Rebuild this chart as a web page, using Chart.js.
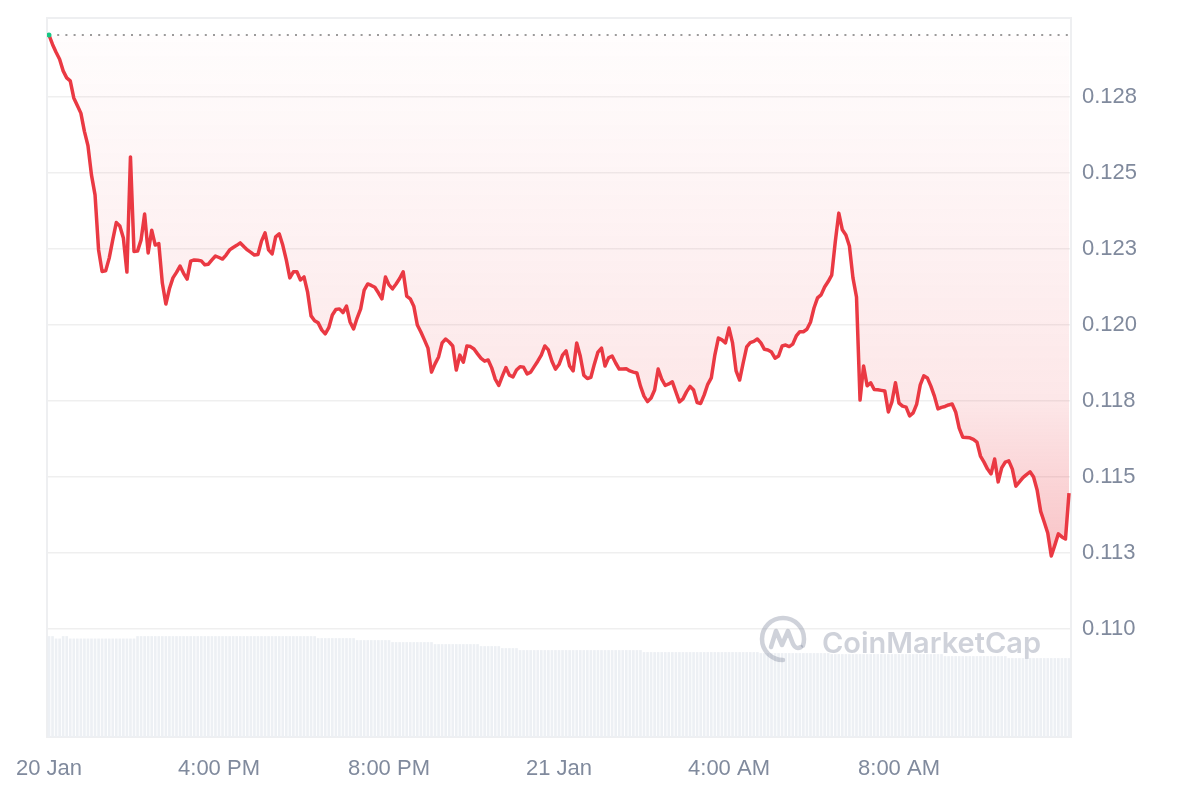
<!DOCTYPE html>
<html>
<head>
<meta charset="utf-8">
<script src="https://cdn.jsdelivr.net/npm/chart.js@4.4.1/dist/chart.umd.min.js"></script>
<style>
  html, body { margin: 0; padding: 0; background: #fff; }
  #wrap { width: 1200px; height: 800px; }
</style>
</head>
<body>
<div id="wrap"><canvas id="priceChart" width="1200" height="800"></canvas></div>
<script>
// time axis: hours relative to 21 Jan 00:00, one point every 5 minutes
const startHour = -12;
const stepMinutes = 5;

// price, one row per hour
const prices = [
  0.12954, 0.12923, 0.12897, 0.12874, 0.12836, 0.12813, 0.12803, 0.12747, 0.12722, 0.12697, 0.12637, 0.12590,
  0.12493, 0.12428, 0.12247, 0.12176, 0.12178, 0.12220, 0.12280, 0.12337, 0.12326, 0.12286, 0.12174, 0.12553,
  0.12242, 0.12243, 0.12280, 0.12365, 0.12237, 0.12312, 0.12263, 0.12268, 0.12138, 0.12069, 0.12119, 0.12155,
  0.12173, 0.12194, 0.12170, 0.12151, 0.12210, 0.12214, 0.12213, 0.12211, 0.12198, 0.12200, 0.12214, 0.12227,
  0.12222, 0.12217, 0.12230, 0.12247, 0.12255, 0.12262, 0.12270, 0.12258, 0.12247, 0.12239, 0.12230, 0.12232,
  0.12276, 0.12303, 0.12247, 0.12234, 0.12290, 0.12300, 0.12263, 0.12214, 0.12155, 0.12175, 0.12175, 0.12148,
  0.12158, 0.12109, 0.12030, 0.12014, 0.12007, 0.11984, 0.11971, 0.11991, 0.12033, 0.12051, 0.12053, 0.12041,
  0.12062, 0.12010, 0.11987, 0.12023, 0.12053, 0.12115, 0.12135, 0.12130, 0.12124, 0.12106, 0.12086, 0.12158,
  0.12132, 0.12119, 0.12135, 0.12153, 0.12175, 0.12095, 0.12086, 0.12062, 0.12000, 0.11977, 0.11951, 0.11924,
  0.11845, 0.11872, 0.11895, 0.11941, 0.11954, 0.11944, 0.11931, 0.11852, 0.11901, 0.11878, 0.11931, 0.11929,
  0.11921, 0.11905, 0.11890, 0.11881, 0.11885, 0.11859, 0.11822, 0.11801, 0.11832, 0.11860, 0.11835, 0.11829,
  0.11852, 0.11863, 0.11861, 0.11839, 0.11845, 0.11863, 0.11881, 0.11901, 0.11931, 0.11918, 0.11881, 0.11855,
  0.11870, 0.11901, 0.11915, 0.11865, 0.11849, 0.11941, 0.11898, 0.11835, 0.11824, 0.11828, 0.11872, 0.11911,
  0.11924, 0.11865, 0.11892, 0.11898, 0.11875, 0.11855, 0.11855, 0.11856, 0.11849, 0.11845, 0.11842, 0.11799,
  0.11766, 0.11748, 0.11760, 0.11786, 0.11855, 0.11822, 0.11801, 0.11806, 0.11813, 0.11780, 0.11747, 0.11757,
  0.11780, 0.11798, 0.11786, 0.11745, 0.11742, 0.11770, 0.11805, 0.11826, 0.11901, 0.11957, 0.11951, 0.11941,
  0.11990, 0.11941, 0.11849, 0.11819, 0.11875, 0.11928, 0.11942, 0.11946, 0.11954, 0.11941, 0.11920, 0.11918,
  0.11911, 0.11891, 0.11898, 0.11931, 0.11934, 0.11929, 0.11937, 0.11964, 0.11978, 0.11978, 0.11986, 0.12009,
  0.12056, 0.12089, 0.12099, 0.12125, 0.12143, 0.12164, 0.12273, 0.12368, 0.12313, 0.12296, 0.12260, 0.12155,
  0.12092, 0.11753, 0.11865, 0.11800, 0.11810, 0.11788, 0.11787, 0.11785, 0.11783, 0.11714, 0.11747, 0.11810,
  0.11743, 0.11733, 0.11730, 0.11701, 0.11711, 0.11740, 0.11803, 0.11833, 0.11826, 0.11799, 0.11766, 0.11724,
  0.11729, 0.11732, 0.11737, 0.11740, 0.11714, 0.11661, 0.11631, 0.11630, 0.11629, 0.11624, 0.11615, 0.11569,
  0.11549, 0.11526, 0.11510, 0.11559, 0.11484, 0.11530, 0.11549, 0.11553, 0.11526, 0.11470, 0.11484, 0.11498,
  0.11508, 0.11517, 0.11500, 0.11457, 0.11387, 0.11352, 0.11316, 0.11240, 0.11276, 0.11313, 0.11303, 0.11296,
  0.11447
];

// volume (M), same 5 minute buckets
const volumes = [
  50.5, 50.5, 49.3, 49.3, 50.5, 50.5, 49.3, 49.3, 49.3, 49.3, 49.3, 49.3,
  49.3, 49.3, 49.3, 49.3, 49.3, 49.3, 49.3, 49.3, 49.3, 49.3, 49.3, 49.3,
  49.3, 50.5, 50.5, 50.5, 50.5, 50.5, 50.5, 50.5, 50.5, 50.5, 50.5, 50.5,
  50.5, 50.5, 50.5, 50.5, 50.5, 50.5, 50.5, 50.5, 50.5, 50.5, 50.5, 50.5,
  50.5, 50.5, 50.5, 50.5, 50.5, 50.5, 50.5, 50.5, 50.5, 50.5, 50.5, 50.5,
  50.5, 50.5, 50.5, 50.5, 50.5, 50.5, 50.5, 50.5, 50.5, 50.5, 50.5, 50.5,
  50.5, 50.5, 50.5, 50.5, 49.5, 49.5, 49.5, 49.5, 49.5, 49.5, 49.5, 49.5,
  49.5, 49.5, 49.5, 48.5, 48.5, 48.5, 48.5, 48.5, 48.5, 48.5, 48.5, 48.5,
  48.5, 47.5, 47.5, 47.5, 47.5, 47.5, 47.5, 47.5, 47.5, 47.5, 47.5, 47.5,
  47.5, 46.5, 46.5, 46.5, 46.5, 46.5, 46.5, 46.5, 46.5, 46.5, 46.5, 46.5,
  46.5, 46.5, 45.5, 45.5, 45.5, 45.5, 45.5, 45.5, 44.5, 44.5, 44.5, 44.5,
  44.5, 43.5, 43.5, 43.5, 43.5, 43.5, 43.5, 43.5, 43.5, 43.5, 43.5, 43.5,
  43.5, 43.5, 43.5, 43.5, 43.5, 43.5, 43.5, 43.5, 43.5, 43.5, 43.5, 43.5,
  43.5, 43.5, 43.5, 43.5, 43.5, 43.5, 43.5, 43.5, 43.5, 43.5, 43.5, 43.5,
  42.5, 42.5, 42.5, 42.5, 42.5, 42.5, 42.5, 42.5, 42.5, 42.5, 42.5, 42.5,
  42.5, 42.5, 42.5, 42.5, 42.5, 42.5, 42.5, 42.5, 42.5, 42.5, 42.5, 42.5,
  42.5, 42.5, 42.5, 42.5, 42.5, 42.5, 42.5, 42.5, 42.5, 42.0, 42.0, 42.0,
  42.0, 42.0, 42.0, 42.0, 42.0, 42.0, 42.0, 42.0, 42.0, 42.0, 42.0, 42.0,
  42.0, 42.0, 42.0, 42.0, 42.0, 41.5, 41.5, 41.5, 41.5, 41.5, 41.5, 41.5,
  41.5, 41.5, 41.5, 41.5, 41.5, 41.5, 41.5, 41.5, 41.5, 41.5, 41.5, 41.5,
  41.5, 41.5, 41.5, 41.5, 41.5, 41.5, 41.5, 41.5, 41.5, 41.5, 41.5, 41.5,
  41.5, 40.5, 40.5, 40.5, 40.5, 40.5, 40.5, 40.5, 40.5, 40.5, 40.5, 40.5,
  40.5, 40.5, 40.5, 40.5, 40.5, 40.5, 40.5, 39.5, 39.5, 39.5, 39.5, 39.5,
  39.5, 39.5, 39.5, 39.5, 39.5, 39.5, 39.5, 39.5, 39.5, 39.5, 39.5, 39.5,
  39.5
];

const xTickHours = [-12, -8, -4, 0, 4, 8];
const xTickLabels = ['20 Jan', '4:00 PM', '8:00 PM', '21 Jan', '4:00 AM', '8:00 AM'];
const yTickValues = [0.110, 0.1125, 0.115, 0.1175, 0.120, 0.1225, 0.125, 0.1275];
const yTickLabels = ['0.110', '0.113', '0.115', '0.118', '0.120', '0.123', '0.125', '0.128'];

const RED = '#ea3943';
const GREEN = '#16c784';
const LABEL = '#808a9d';
const tickFont = { family: '"Liberation Sans", Arial, sans-serif', size: 22 };

function hourAt(i) {
    return startHour + i * stepMinutes / 60;
}

const pricePoints = prices.map((p, i) => ({ x: hourAt(i), y: p }));
const volumePoints = volumes.map((v, i) => ({ x: hourAt(i), y: v }));
const openPrice = prices[0];
const openLine = [
    { x: hourAt(0), y: openPrice },
    { x: hourAt(prices.length - 1), y: openPrice }
];

// gradient below the open price, stronger towards the low
function fillGradient(context) {
    const chart = context.chart;
    if (!chart.chartArea || !chart.scales.y) return 'rgba(234,57,67,0.08)';
    const y = chart.scales.y;
    const top = y.getPixelForValue(openPrice);
    const bottom = y.getPixelForValue(Math.min.apply(null, prices));
    const g = chart.ctx.createLinearGradient(0, top, 0, bottom);
    g.addColorStop(0, 'rgba(234,57,67,0.01)');
    g.addColorStop(0.4, 'rgba(234,57,67,0.07)');
    g.addColorStop(0.7, 'rgba(234,57,67,0.12)');
    g.addColorStop(1, 'rgba(234,57,67,0.30)');
    return g;
}

// light frame round the plot area
const framePlugin = {
    id: 'frame',
    beforeDatasetsDraw(chart) {
        const { ctx, chartArea: a } = chart;
        ctx.save();
        ctx.strokeStyle = '#eeeff1';
        ctx.lineWidth = 2;
        ctx.strokeRect(a.left, a.top, a.right - a.left, a.bottom - a.top);
        ctx.restore();
    }
};

// CoinMarketCap watermark
const watermarkPlugin = {
    id: 'watermark',
    afterDatasetsDraw(chart) {
        const { ctx, chartArea: a } = chart;
        const cx = a.right - 288;
        const cy = a.bottom - 98;
        ctx.save();
        ctx.strokeStyle = 'rgba(128,138,157,0.38)';
        ctx.fillStyle = 'rgba(128,138,157,0.38)';
        ctx.lineWidth = 4.5;
        ctx.lineCap = 'round';
        ctx.lineJoin = 'round';
        ctx.beginPath();
        ctx.arc(cx, cy, 21, 0.5 * Math.PI, 2.1 * Math.PI);
        ctx.stroke();
        ctx.beginPath();
        ctx.moveTo(cx - 12, cy + 8);
        ctx.lineTo(cx - 7, cy - 8);
        ctx.lineTo(cx - 1, cy + 6);
        ctx.lineTo(cx + 5, cy - 8);
        ctx.lineTo(cx + 10, cy + 5);
        ctx.quadraticCurveTo(cx + 13, cy + 11, cx + 18, cy + 8);
        ctx.stroke();
        ctx.font = '600 29px Inter, "Open Sans", sans-serif';
        ctx.textBaseline = 'alphabetic';
        ctx.fillText('CoinMarketCap', a.right - 249, a.bottom - 84);
        ctx.restore();
    }
};

const ctx = document.getElementById('priceChart').getContext('2d');
const priceChart = new Chart(ctx, {
    type: 'line',
    data: {
        datasets: [
            {
                data: pricePoints,
                borderColor: RED,
                borderWidth: 3.5,
                borderJoinStyle: 'round',
                tension: 0,
                backgroundColor: fillGradient,
                fill: { value: openPrice, above: 'rgba(22,199,132,0.08)' },
                pointRadius: (c) => c.dataIndex === 0 ? 2.5 : 0,
                pointBackgroundColor: GREEN,
                pointBorderWidth: 0,
                yAxisID: 'y'
            },
            {
                data: openLine,
                borderColor: '#9b9b9b',
                borderWidth: 2,
                borderDash: [2, 6.2],
                pointRadius: 0,
                fill: false,
                yAxisID: 'y'
            },
            {
                type: 'bar',
                data: volumePoints,
                backgroundColor: '#edf0f4',
                categoryPercentage: 1,
                barPercentage: 0.75,
                yAxisID: 'yVol'
            }
        ]
    },
    options: {
        responsive: false,
        animation: false,
        layout: { padding: { left: 47, top: 18, right: 0, bottom: 0 } },
        plugins: {
            legend: { display: false },
            tooltip: { enabled: false }
        },
        scales: {
            x: {
                type: 'linear',
                position: 'bottom',
                min: -12.047,
                max: 12.047,
                offset: false,
                grid: { display: false, offset: false },
                border: { display: false },
                afterBuildTicks: (scale) => {
                    scale.ticks = xTickHours.map(v => ({ value: v }));
                },
                afterFit: (scale) => {
                    scale.height = 63;
                    scale.paddingLeft = 0;
                    scale.paddingRight = 0;
                },
                ticks: {
                    color: LABEL,
                    font: tickFont,
                    padding: 11,
                    autoSkip: false,
                    maxRotation: 0,
                    callback: (value, index) => xTickLabels[index]
                }
            },
            y: {
                type: 'linear',
                position: 'right',
                min: 0.106447,
                max: 0.130099,
                grid: { color: '#efefef', lineWidth: 1.5, drawTicks: false },
                border: { display: false },
                afterBuildTicks: (scale) => {
                    scale.ticks = yTickValues.map(v => ({ value: v }));
                },
                afterFit: (scale) => {
                    scale.width = 129;
                    scale.paddingTop = 0;
                    scale.paddingBottom = 0;
                },
                ticks: {
                    color: LABEL,
                    font: tickFont,
                    padding: 11,
                    callback: (value, index) => yTickLabels[index]
                }
            },
            yVol: {
                type: 'linear',
                display: false,
                min: 0,
                max: 360
            }
        }
    },
    plugins: [framePlugin, watermarkPlugin]
});
</script>
</body>
</html>
